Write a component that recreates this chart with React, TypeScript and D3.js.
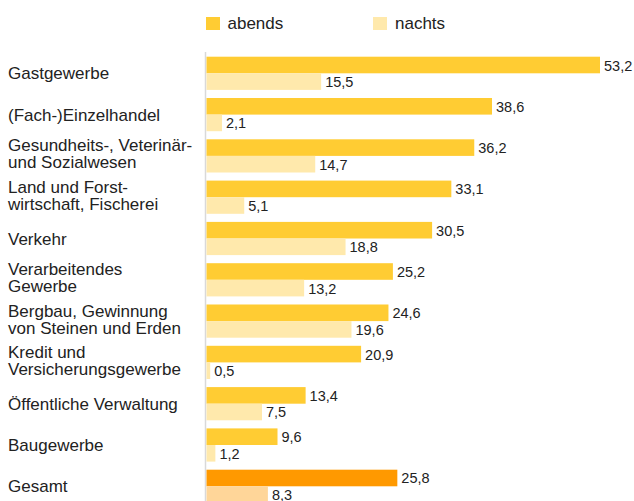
import React from "react";
import * as d3 from "d3";

const categories: string[][] = [
  ["Gastgewerbe"],
  ["(Fach-)Einzelhandel"],
  ["Gesundheits-, Veterinär-", "und Sozialwesen"],
  ["Land und Forst-", "wirtschaft, Fischerei"],
  ["Verkehr"],
  ["Verarbeitendes", "Gewerbe"],
  ["Bergbau, Gewinnung", "von Steinen und Erden"],
  ["Kredit und", "Versicherungsgewerbe"],
  ["Öffentliche Verwaltung"],
  ["Baugewerbe"],
  ["Gesamt"],
];
const abends = [53.2, 38.6, 36.2, 33.1, 30.5, 25.2, 24.6, 20.9, 13.4, 9.6, 25.8];
const nachts = [15.5, 2.1, 14.7, 5.1, 18.8, 13.2, 19.6, 0.5, 7.5, 1.2, 8.3];
const seriesNames = ["abends", "nachts"];

const W = 634;
const H = 501;
const colors = {
  abends: "#FFCC33",
  nachts: "#FFE9AC",
  totalAbends: "#FF9900",
  totalNachts: "#FFD699",
};

export default function App() {
  const keys = categories.map((c) => c.join(" "));
  const y = d3
    .scaleBand<string>()
    .domain(keys)
    .range([56.7, 56.7 + 10 * 41.3 + 33.2])
    .paddingInner(0.196)
    .paddingOuter(0);
  const ySub = d3.scaleBand<string>().domain(seriesNames).range([0, y.bandwidth()]);
  const x = d3.scaleLinear().domain([0, 53.2]).range([206.5, 600]);
  const fmt = (v: number) => d3.format(".1f")(v).replace(".", ",");
  const textColor = "#222";
  const font = "'Liberation Sans', Arial, Helvetica, sans-serif";

  return (
    <svg
      width={W}
      height={H}
      style={{ position: "absolute", left: 0, top: 0, background: "#fff" }}
      fontFamily={font}
    >
      {/* legend */}
      <rect x={206} y={17} width={14} height={13} fill={colors.abends} />
      <text x={227.5} y={29.3} fontSize={17} fill={textColor}>abends</text>
      <rect x={373} y={17} width={14} height={13} fill={colors.nachts} />
      <text x={395} y={29.3} fontSize={17} fill={textColor}>nachts</text>

      {/* axis line */}
      <line x1={205.5} x2={205.5} y1={52} y2={H} stroke="#d9d9d9" strokeWidth={1.5} />

      {categories.map((lines, i) => {
        const key = keys[i];
        const y0 = y(key)!;
        const c = y0 + y.bandwidth() / 2;
        const isTotal = i === categories.length - 1;
        const vals = [abends[i], nachts[i]];
        return (
          <g key={key}>
            {lines.length === 1 ? (
              <text x={8} y={c + 6} fontSize={17} fill={textColor}>{lines[0]}</text>
            ) : (
              lines.map((l, j) => (
                <text key={j} x={8} y={c - 4.5 + j * 17} fontSize={17} fill={textColor}>{l}</text>
              ))
            )}
            {seriesNames.map((s, k) => {
              const by = y0 + ySub(s)!;
              const bh = ySub.bandwidth();
              const fill = isTotal
                ? k === 0 ? colors.totalAbends : colors.totalNachts
                : k === 0 ? colors.abends : colors.nachts;
              return (
                <g key={s}>
                  <rect x={x(0)} y={by} width={x(vals[k]) - x(0)} height={bh} fill={fill} />
                  <text x={x(vals[k]) + 4} y={by + bh / 2 + 5.5} fontSize={14.5} fill={textColor}>
                    {fmt(vals[k])}
                  </text>
                </g>
              );
            })}
          </g>
        );
      })}
    </svg>
  );
}
